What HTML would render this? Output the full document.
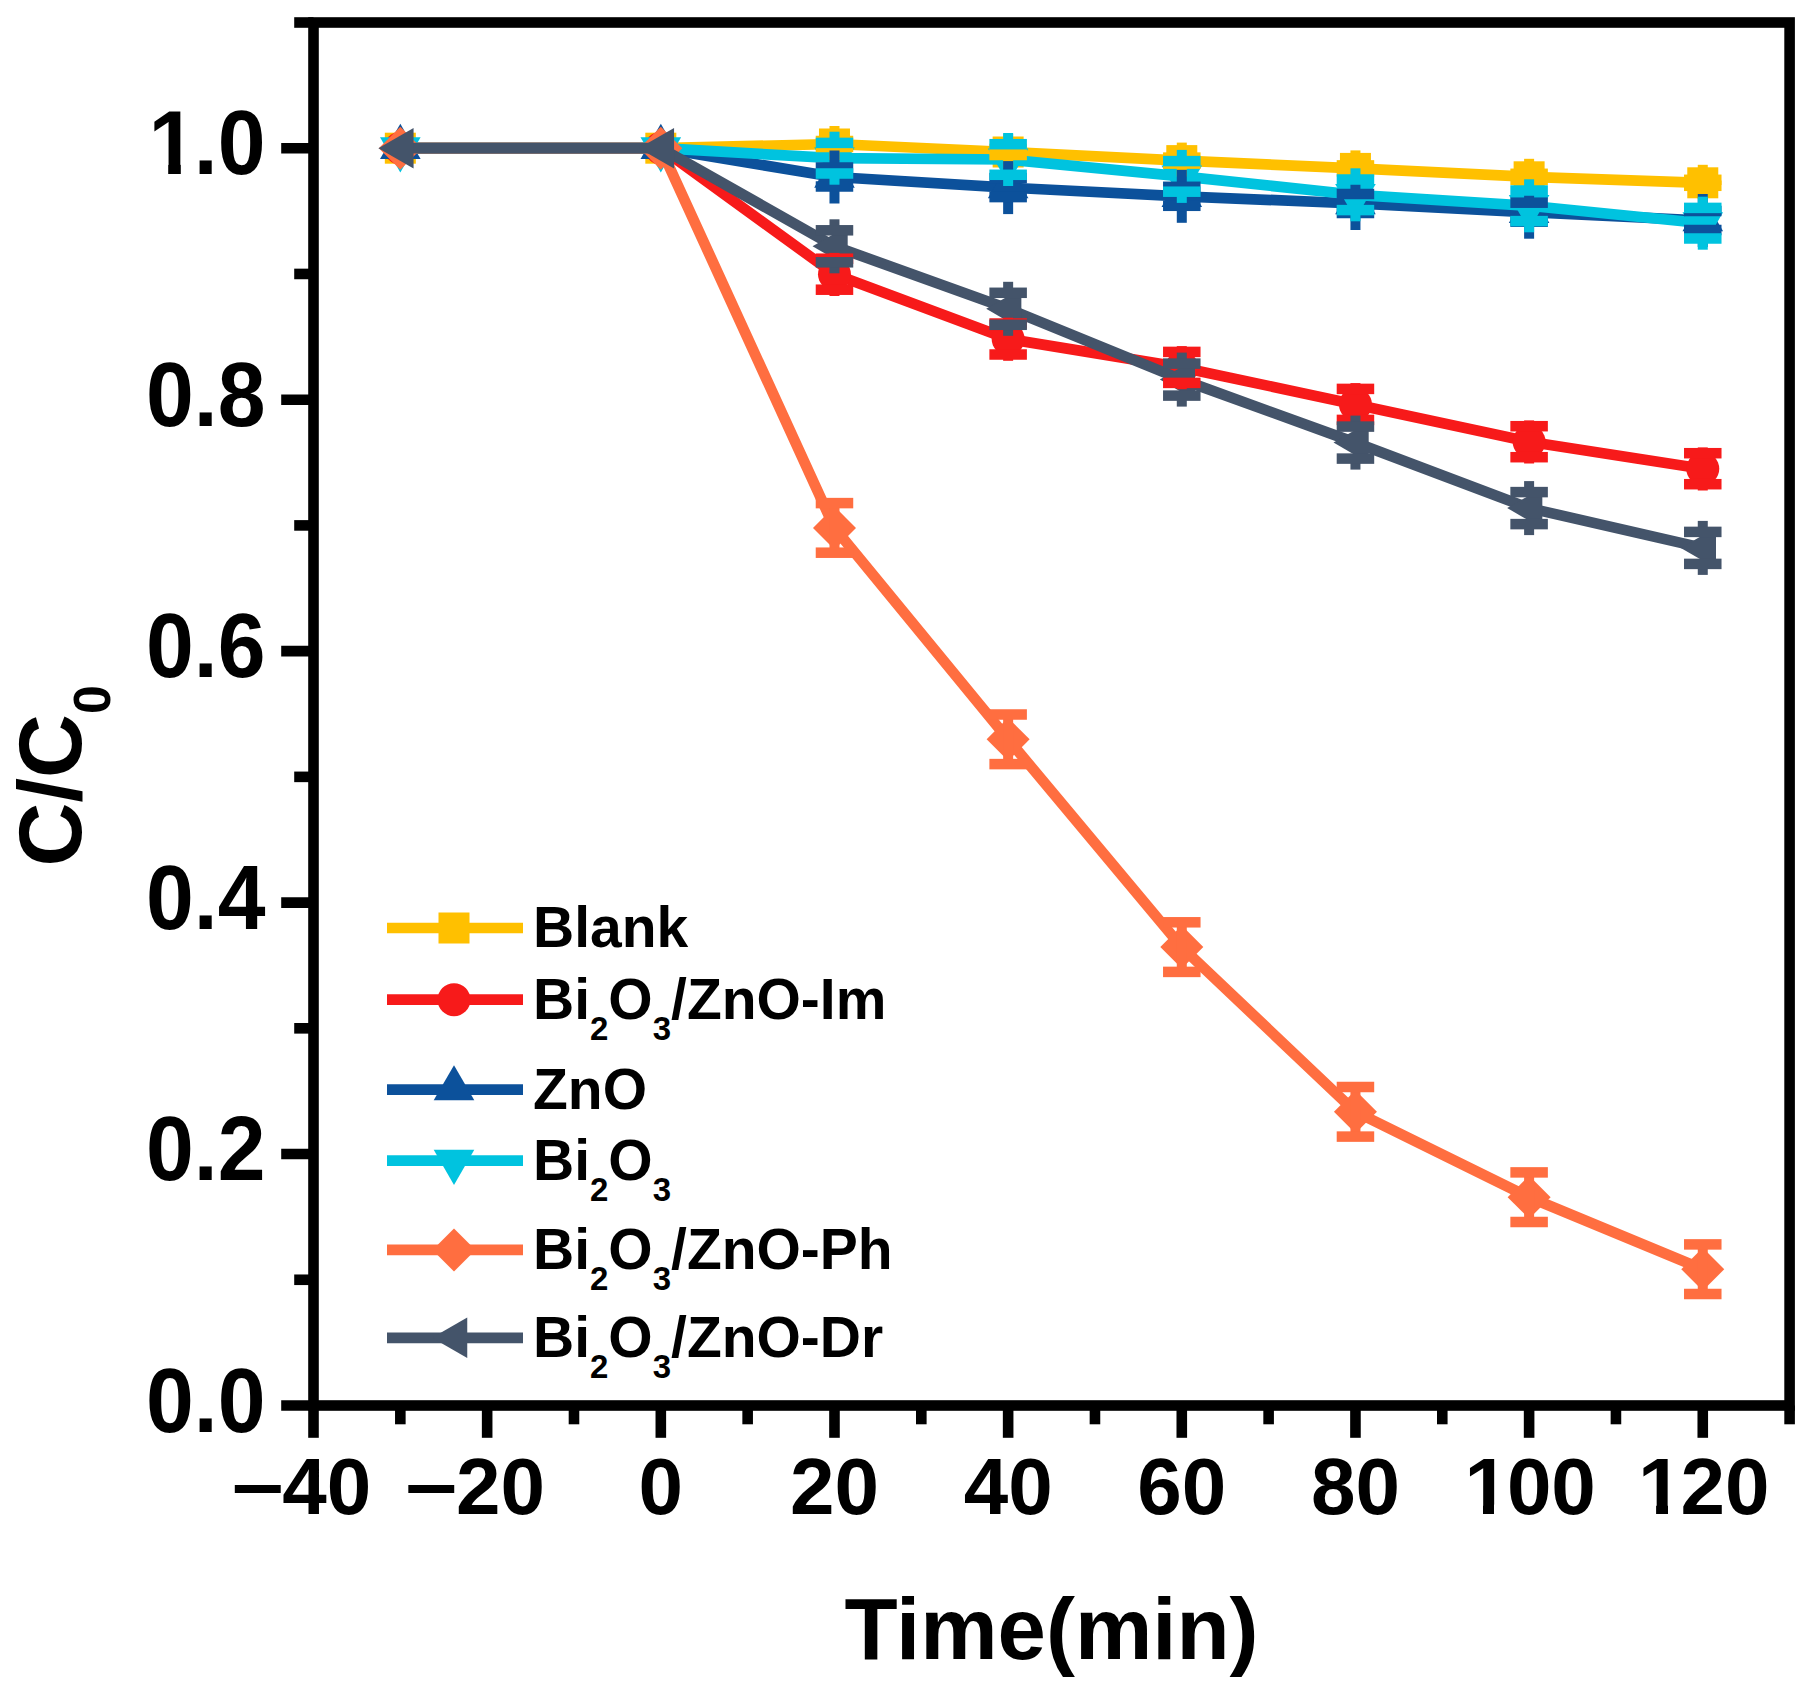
<!DOCTYPE html>
<html lang="en">
<head>
<meta charset="utf-8">
<title>C/C0 vs Time(min)</title>
<style>
html,body{margin:0;padding:0;background:#fff;}
body{width:1815px;height:1688px;overflow:hidden;font-family:"Liberation Sans",Arial,Helvetica,sans-serif;}
svg{display:block;}
</style>
</head>
<body>
<svg width="1815" height="1688" viewBox="0 0 1815 1688">
<g stroke="#000" stroke-width="10.6" fill="none" stroke-linecap="butt">
<rect x="313.5" y="22.5" width="1476.1" height="1383" stroke-linejoin="miter"/>
<line x1="281.2" y1="1405.5" x2="313.5" y2="1405.5"/>
<line x1="294.2" y1="1279.77" x2="313.5" y2="1279.77"/>
<line x1="281.2" y1="1154.05" x2="313.5" y2="1154.05"/>
<line x1="294.2" y1="1028.32" x2="313.5" y2="1028.32"/>
<line x1="281.2" y1="902.59" x2="313.5" y2="902.59"/>
<line x1="294.2" y1="776.86" x2="313.5" y2="776.86"/>
<line x1="281.2" y1="651.14" x2="313.5" y2="651.14"/>
<line x1="294.2" y1="525.41" x2="313.5" y2="525.41"/>
<line x1="281.2" y1="399.68" x2="313.5" y2="399.68"/>
<line x1="294.2" y1="273.95" x2="313.5" y2="273.95"/>
<line x1="281.2" y1="148.23" x2="313.5" y2="148.23"/>
<line x1="294.2" y1="22.5" x2="313.5" y2="22.5"/>
<line x1="313.5" y1="1405.5" x2="313.5" y2="1437.8"/>
<line x1="400.33" y1="1405.5" x2="400.33" y2="1424.3"/>
<line x1="487.16" y1="1405.5" x2="487.16" y2="1437.8"/>
<line x1="573.99" y1="1405.5" x2="573.99" y2="1424.3"/>
<line x1="660.82" y1="1405.5" x2="660.82" y2="1437.8"/>
<line x1="747.65" y1="1405.5" x2="747.65" y2="1424.3"/>
<line x1="834.48" y1="1405.5" x2="834.48" y2="1437.8"/>
<line x1="921.31" y1="1405.5" x2="921.31" y2="1424.3"/>
<line x1="1008.14" y1="1405.5" x2="1008.14" y2="1437.8"/>
<line x1="1094.96" y1="1405.5" x2="1094.96" y2="1424.3"/>
<line x1="1181.79" y1="1405.5" x2="1181.79" y2="1437.8"/>
<line x1="1268.62" y1="1405.5" x2="1268.62" y2="1424.3"/>
<line x1="1355.45" y1="1405.5" x2="1355.45" y2="1437.8"/>
<line x1="1442.28" y1="1405.5" x2="1442.28" y2="1424.3"/>
<line x1="1529.11" y1="1405.5" x2="1529.11" y2="1437.8"/>
<line x1="1615.94" y1="1405.5" x2="1615.94" y2="1424.3"/>
<line x1="1702.77" y1="1405.5" x2="1702.77" y2="1437.8"/>
<line x1="1789.6" y1="1405.5" x2="1789.6" y2="1424.3"/>
</g>
<g font-family="'Liberation Sans', Arial, Helvetica, sans-serif" font-weight="bold" font-size="90" text-anchor="end" fill="#000">
<text transform="translate(265.5,1431.5) scale(0.955,1)">0.0</text>
<text transform="translate(265.5,1180.05) scale(0.955,1)">0.2</text>
<text transform="translate(265.5,928.59) scale(0.955,1)">0.4</text>
<text transform="translate(265.5,677.14) scale(0.955,1)">0.6</text>
<text transform="translate(265.5,425.68) scale(0.955,1)">0.8</text>
<text text-anchor="start" transform="translate(148.53,174.23) scale(0.955,1)">1<tspan dx="-2.62">.0</tspan></text>
</g>
<g font-family="'Liberation Sans', Arial, Helvetica, sans-serif" font-weight="bold" font-size="80" text-anchor="middle" fill="#000">
<text text-anchor="start" x="231.9" y="1514"><tspan textLength="51.6" lengthAdjust="spacingAndGlyphs" dy="-4.3">–</tspan><tspan x="282.34" dy="4.3">40</tspan></text>
<text text-anchor="start" x="405.56" y="1514"><tspan textLength="51.6" lengthAdjust="spacingAndGlyphs" dy="-4.3">–</tspan><tspan x="456" dy="4.3">20</tspan></text>
<text x="660.82" y="1514">0</text>
<text x="834.48" y="1514">20</text>
<text x="1008.14" y="1514">40</text>
<text x="1181.79" y="1514">60</text>
<text x="1355.45" y="1514">80</text>
<text text-anchor="start" x="1464.39" y="1514">1<tspan dx="-2">00</tspan></text>
<text text-anchor="start" x="1638.05" y="1514">1<tspan dx="-2">20</tspan></text>
</g>
<rect x="1467.5" y="1504.6" width="15.5" height="10.6" fill="#fff"/>
<rect x="1494" y="1504.6" width="14" height="10.6" fill="#fff"/>
<rect x="1641.5" y="1504.6" width="14.6" height="10.6" fill="#fff"/>
<rect x="1668" y="1504.6" width="13.2" height="10.6" fill="#fff"/>
<rect x="152" y="163.8" width="16.2" height="11.4" fill="#fff"/>
<rect x="180.8" y="163.8" width="13.7" height="11.4" fill="#fff"/>
<text font-family="'Liberation Sans', Arial, Helvetica, sans-serif" font-weight="bold" font-size="87" text-anchor="middle" x="1051.5" y="1658.5">Time(min)</text>
<g transform="translate(81,866.5) rotate(-90)"><text font-family="'Liberation Sans', Arial, Helvetica, sans-serif" font-weight="bold" font-size="88.5" x="0" y="0">C/C<tspan font-size="52" dy="29">0</tspan></text></g>
<polyline points="400.33,148.2 660.82,148.2 834.48,144 1008.14,152 1181.79,160.6 1355.45,168.4 1529.11,176.8 1702.77,182.8" fill="none" stroke="#FFC000" stroke-width="10.7" stroke-linejoin="round"/>
<rect x="384.83" y="132.7" width="31" height="31" fill="#FFC000"/>
<rect x="645.32" y="132.7" width="31" height="31" fill="#FFC000"/>
<rect x="818.98" y="128.5" width="31" height="31" fill="#FFC000"/>
<rect x="992.64" y="136.5" width="31" height="31" fill="#FFC000"/>
<rect x="1166.29" y="145.1" width="31" height="31" fill="#FFC000"/>
<rect x="1339.95" y="152.9" width="31" height="31" fill="#FFC000"/>
<rect x="1513.61" y="161.3" width="31" height="31" fill="#FFC000"/>
<rect x="1687.27" y="167.3" width="31" height="31" fill="#FFC000"/>
<polyline points="400.33,148.2 660.82,148.2 834.48,274.2 1008.14,339 1181.79,367.4 1355.45,404.4 1529.11,441.7 1702.77,468.7" fill="none" stroke="#F71A1A" stroke-width="10.7" stroke-linejoin="round"/>
<circle cx="400.33" cy="148.2" r="16.5" fill="#F71A1A"/>
<circle cx="660.82" cy="148.2" r="16.5" fill="#F71A1A"/>
<circle cx="834.48" cy="274.2" r="16.5" fill="#F71A1A"/>
<circle cx="1008.14" cy="339" r="16.5" fill="#F71A1A"/>
<circle cx="1181.79" cy="367.4" r="16.5" fill="#F71A1A"/>
<circle cx="1355.45" cy="404.4" r="16.5" fill="#F71A1A"/>
<circle cx="1529.11" cy="441.7" r="16.5" fill="#F71A1A"/>
<circle cx="1702.77" cy="468.7" r="16.5" fill="#F71A1A"/>
<polyline points="400.33,148.2 660.82,148.2 834.48,177 1008.14,187.6 1181.79,196.3 1355.45,203.5 1529.11,212.2 1702.77,220.5" fill="none" stroke="#0C519B" stroke-width="10.7" stroke-linejoin="round"/>
<polygon points="400.33,123.76 380.03,158.92 420.63,158.92" fill="#0C519B"/>
<polygon points="660.82,123.76 640.52,158.92 681.12,158.92" fill="#0C519B"/>
<polygon points="834.48,152.56 814.18,187.72 854.78,187.72" fill="#0C519B"/>
<polygon points="1008.14,163.16 987.84,198.32 1028.44,198.32" fill="#0C519B"/>
<polygon points="1181.79,171.86 1161.49,207.02 1202.09,207.02" fill="#0C519B"/>
<polygon points="1355.45,179.06 1335.15,214.22 1375.75,214.22" fill="#0C519B"/>
<polygon points="1529.11,187.76 1508.81,222.92 1549.41,222.92" fill="#0C519B"/>
<polygon points="1702.77,196.06 1682.47,231.22 1723.07,231.22" fill="#0C519B"/>
<polyline points="400.33,148.2 660.82,148.2 834.48,158.2 1008.14,159.5 1181.79,176.4 1355.45,194.8 1529.11,205.8 1702.77,223.2" fill="none" stroke="#00C3DF" stroke-width="10.7" stroke-linejoin="round"/>
<polygon points="400.33,172.44 380.03,137.28 420.63,137.28" fill="#00C3DF"/>
<polygon points="660.82,172.44 640.52,137.28 681.12,137.28" fill="#00C3DF"/>
<polygon points="834.48,182.44 814.18,147.28 854.78,147.28" fill="#00C3DF"/>
<polygon points="1008.14,183.74 987.84,148.58 1028.44,148.58" fill="#00C3DF"/>
<polygon points="1181.79,200.64 1161.49,165.48 1202.09,165.48" fill="#00C3DF"/>
<polygon points="1355.45,219.04 1335.15,183.88 1375.75,183.88" fill="#00C3DF"/>
<polygon points="1529.11,230.04 1508.81,194.88 1549.41,194.88" fill="#00C3DF"/>
<polygon points="1702.77,247.44 1682.47,212.28 1723.07,212.28" fill="#00C3DF"/>
<polyline points="400.33,148.2 660.82,148.2 834.48,527.9 1008.14,739.3 1181.79,947.1 1355.45,1111.8 1529.11,1197.2 1702.77,1269.2" fill="none" stroke="#FF6E40" stroke-width="10.7" stroke-linejoin="round"/>
<polygon points="400.33,126.7 421.83,148.2 400.33,169.7 378.83,148.2" fill="#FF6E40"/>
<polygon points="660.82,126.7 682.32,148.2 660.82,169.7 639.32,148.2" fill="#FF6E40"/>
<polygon points="834.48,506.4 855.98,527.9 834.48,549.4 812.98,527.9" fill="#FF6E40"/>
<polygon points="1008.14,717.8 1029.64,739.3 1008.14,760.8 986.64,739.3" fill="#FF6E40"/>
<polygon points="1181.79,925.6 1203.29,947.1 1181.79,968.6 1160.29,947.1" fill="#FF6E40"/>
<polygon points="1355.45,1090.3 1376.95,1111.8 1355.45,1133.3 1333.95,1111.8" fill="#FF6E40"/>
<polygon points="1529.11,1175.7 1550.61,1197.2 1529.11,1218.7 1507.61,1197.2" fill="#FF6E40"/>
<polygon points="1702.77,1247.7 1724.27,1269.2 1702.77,1290.7 1681.27,1269.2" fill="#FF6E40"/>
<polyline points="400.33,148.2 660.82,148.2 834.48,246.3 1008.14,308.8 1181.79,379.6 1355.45,442.6 1529.11,508.1 1702.77,547.9" fill="none" stroke="#44546A" stroke-width="10.7" stroke-linejoin="round"/>
<polygon points="378.39,148.2 413.55,127.9 413.55,168.5" fill="#44546A"/>
<polygon points="638.88,148.2 674.04,127.9 674.04,168.5" fill="#44546A"/>
<polygon points="812.54,246.3 847.7,226 847.7,266.6" fill="#44546A"/>
<polygon points="986.19,308.8 1021.36,288.5 1021.36,329.1" fill="#44546A"/>
<polygon points="1159.85,379.6 1195.01,359.3 1195.01,399.9" fill="#44546A"/>
<polygon points="1333.51,442.6 1368.67,422.3 1368.67,462.9" fill="#44546A"/>
<polygon points="1507.17,508.1 1542.33,487.8 1542.33,528.4" fill="#44546A"/>
<polygon points="1680.83,547.9 1715.99,527.6 1715.99,568.2" fill="#44546A"/>
<rect x="829.48" y="126" width="10" height="15" fill="#FFC000"/>
<rect x="815.73" y="135.75" width="37.5" height="10.5" fill="#FFC000"/>
<rect x="829.48" y="147" width="10" height="13" fill="#FFC000"/>
<rect x="815.73" y="141.75" width="37.5" height="10.5" fill="#FFC000"/>
<rect x="1003.14" y="134" width="10" height="15" fill="#FFC000"/>
<rect x="989.39" y="143.75" width="37.5" height="10.5" fill="#FFC000"/>
<rect x="1003.14" y="155" width="10" height="13" fill="#FFC000"/>
<rect x="989.39" y="149.75" width="37.5" height="10.5" fill="#FFC000"/>
<rect x="1176.79" y="142.6" width="10" height="15" fill="#FFC000"/>
<rect x="1163.04" y="152.35" width="37.5" height="10.5" fill="#FFC000"/>
<rect x="1176.79" y="163.6" width="10" height="13" fill="#FFC000"/>
<rect x="1163.04" y="158.35" width="37.5" height="10.5" fill="#FFC000"/>
<rect x="1350.45" y="150.4" width="10" height="15" fill="#FFC000"/>
<rect x="1336.7" y="160.15" width="37.5" height="10.5" fill="#FFC000"/>
<rect x="1350.45" y="171.4" width="10" height="13" fill="#FFC000"/>
<rect x="1336.7" y="166.15" width="37.5" height="10.5" fill="#FFC000"/>
<rect x="1524.11" y="158.8" width="10" height="15" fill="#FFC000"/>
<rect x="1510.36" y="168.55" width="37.5" height="10.5" fill="#FFC000"/>
<rect x="1524.11" y="179.8" width="10" height="13" fill="#FFC000"/>
<rect x="1510.36" y="174.55" width="37.5" height="10.5" fill="#FFC000"/>
<rect x="1697.77" y="164.8" width="10" height="15" fill="#FFC000"/>
<rect x="1684.02" y="174.55" width="37.5" height="10.5" fill="#FFC000"/>
<rect x="1697.77" y="185.8" width="10" height="13" fill="#FFC000"/>
<rect x="1684.02" y="180.55" width="37.5" height="10.5" fill="#FFC000"/>
<rect x="829.48" y="252.9" width="10" height="5.8" fill="#F71A1A"/>
<rect x="815.73" y="253.45" width="37.5" height="10.5" fill="#F71A1A"/>
<rect x="829.48" y="289.7" width="10" height="6.3" fill="#F71A1A"/>
<rect x="815.73" y="284.45" width="37.5" height="10.5" fill="#F71A1A"/>
<rect x="1003.14" y="317.7" width="10" height="5.8" fill="#F71A1A"/>
<rect x="989.39" y="318.25" width="37.5" height="10.5" fill="#F71A1A"/>
<rect x="1003.14" y="354.5" width="10" height="6.3" fill="#F71A1A"/>
<rect x="989.39" y="349.25" width="37.5" height="10.5" fill="#F71A1A"/>
<rect x="1176.79" y="346.1" width="10" height="5.8" fill="#F71A1A"/>
<rect x="1163.04" y="346.65" width="37.5" height="10.5" fill="#F71A1A"/>
<rect x="1176.79" y="382.9" width="10" height="6.3" fill="#F71A1A"/>
<rect x="1163.04" y="377.65" width="37.5" height="10.5" fill="#F71A1A"/>
<rect x="1350.45" y="383.1" width="10" height="5.8" fill="#F71A1A"/>
<rect x="1336.7" y="383.65" width="37.5" height="10.5" fill="#F71A1A"/>
<rect x="1350.45" y="419.9" width="10" height="6.3" fill="#F71A1A"/>
<rect x="1336.7" y="414.65" width="37.5" height="10.5" fill="#F71A1A"/>
<rect x="1524.11" y="420.4" width="10" height="5.8" fill="#F71A1A"/>
<rect x="1510.36" y="420.95" width="37.5" height="10.5" fill="#F71A1A"/>
<rect x="1524.11" y="457.2" width="10" height="6.3" fill="#F71A1A"/>
<rect x="1510.36" y="451.95" width="37.5" height="10.5" fill="#F71A1A"/>
<rect x="1697.77" y="447.4" width="10" height="5.8" fill="#F71A1A"/>
<rect x="1684.02" y="447.95" width="37.5" height="10.5" fill="#F71A1A"/>
<rect x="1697.77" y="484.2" width="10" height="6.3" fill="#F71A1A"/>
<rect x="1684.02" y="478.95" width="37.5" height="10.5" fill="#F71A1A"/>
<rect x="829.48" y="150.5" width="10" height="17" fill="#0C519B"/>
<rect x="815.73" y="162.25" width="37.5" height="10.5" fill="#0C519B"/>
<rect x="829.48" y="186.5" width="10" height="17" fill="#0C519B"/>
<rect x="815.73" y="181.25" width="37.5" height="10.5" fill="#0C519B"/>
<rect x="1003.14" y="161.1" width="10" height="17" fill="#0C519B"/>
<rect x="989.39" y="172.85" width="37.5" height="10.5" fill="#0C519B"/>
<rect x="1003.14" y="197.1" width="10" height="17" fill="#0C519B"/>
<rect x="989.39" y="191.85" width="37.5" height="10.5" fill="#0C519B"/>
<rect x="1176.79" y="169.8" width="10" height="17" fill="#0C519B"/>
<rect x="1163.04" y="181.55" width="37.5" height="10.5" fill="#0C519B"/>
<rect x="1176.79" y="205.8" width="10" height="17" fill="#0C519B"/>
<rect x="1163.04" y="200.55" width="37.5" height="10.5" fill="#0C519B"/>
<rect x="1350.45" y="177" width="10" height="17" fill="#0C519B"/>
<rect x="1336.7" y="188.75" width="37.5" height="10.5" fill="#0C519B"/>
<rect x="1350.45" y="213" width="10" height="17" fill="#0C519B"/>
<rect x="1336.7" y="207.75" width="37.5" height="10.5" fill="#0C519B"/>
<rect x="1524.11" y="185.7" width="10" height="17" fill="#0C519B"/>
<rect x="1510.36" y="197.45" width="37.5" height="10.5" fill="#0C519B"/>
<rect x="1524.11" y="221.7" width="10" height="17" fill="#0C519B"/>
<rect x="1510.36" y="216.45" width="37.5" height="10.5" fill="#0C519B"/>
<rect x="1697.77" y="194" width="10" height="17" fill="#0C519B"/>
<rect x="1684.02" y="205.75" width="37.5" height="10.5" fill="#0C519B"/>
<rect x="1697.77" y="230" width="10" height="17" fill="#0C519B"/>
<rect x="1684.02" y="224.75" width="37.5" height="10.5" fill="#0C519B"/>
<rect x="829.48" y="131.7" width="10" height="11.2" fill="#00C3DF"/>
<rect x="815.73" y="137.65" width="37.5" height="10.5" fill="#00C3DF"/>
<rect x="829.48" y="173.5" width="10" height="11.2" fill="#00C3DF"/>
<rect x="815.73" y="168.25" width="37.5" height="10.5" fill="#00C3DF"/>
<rect x="1003.14" y="133" width="10" height="11.2" fill="#00C3DF"/>
<rect x="989.39" y="138.95" width="37.5" height="10.5" fill="#00C3DF"/>
<rect x="1003.14" y="174.8" width="10" height="11.2" fill="#00C3DF"/>
<rect x="989.39" y="169.55" width="37.5" height="10.5" fill="#00C3DF"/>
<rect x="1176.79" y="149.9" width="10" height="11.2" fill="#00C3DF"/>
<rect x="1163.04" y="155.85" width="37.5" height="10.5" fill="#00C3DF"/>
<rect x="1176.79" y="191.7" width="10" height="11.2" fill="#00C3DF"/>
<rect x="1163.04" y="186.45" width="37.5" height="10.5" fill="#00C3DF"/>
<rect x="1350.45" y="168.3" width="10" height="11.2" fill="#00C3DF"/>
<rect x="1336.7" y="174.25" width="37.5" height="10.5" fill="#00C3DF"/>
<rect x="1350.45" y="210.1" width="10" height="11.2" fill="#00C3DF"/>
<rect x="1336.7" y="204.85" width="37.5" height="10.5" fill="#00C3DF"/>
<rect x="1524.11" y="179.3" width="10" height="11.2" fill="#00C3DF"/>
<rect x="1510.36" y="185.25" width="37.5" height="10.5" fill="#00C3DF"/>
<rect x="1524.11" y="221.1" width="10" height="11.2" fill="#00C3DF"/>
<rect x="1510.36" y="215.85" width="37.5" height="10.5" fill="#00C3DF"/>
<rect x="1697.77" y="196.7" width="10" height="11.2" fill="#00C3DF"/>
<rect x="1684.02" y="202.65" width="37.5" height="10.5" fill="#00C3DF"/>
<rect x="1697.77" y="238.5" width="10" height="11.2" fill="#00C3DF"/>
<rect x="1684.02" y="233.25" width="37.5" height="10.5" fill="#00C3DF"/>
<rect x="829.48" y="503.1" width="10" height="49.6" fill="#FF6E40"/>
<rect x="815.73" y="497.85" width="37.5" height="10.5" fill="#FF6E40"/>
<rect x="815.73" y="547.45" width="37.5" height="10.5" fill="#FF6E40"/>
<rect x="1003.14" y="714.5" width="10" height="49.6" fill="#FF6E40"/>
<rect x="989.39" y="709.25" width="37.5" height="10.5" fill="#FF6E40"/>
<rect x="989.39" y="758.85" width="37.5" height="10.5" fill="#FF6E40"/>
<rect x="1176.79" y="922.3" width="10" height="49.6" fill="#FF6E40"/>
<rect x="1163.04" y="917.05" width="37.5" height="10.5" fill="#FF6E40"/>
<rect x="1163.04" y="966.65" width="37.5" height="10.5" fill="#FF6E40"/>
<rect x="1350.45" y="1087" width="10" height="49.6" fill="#FF6E40"/>
<rect x="1336.7" y="1081.75" width="37.5" height="10.5" fill="#FF6E40"/>
<rect x="1336.7" y="1131.35" width="37.5" height="10.5" fill="#FF6E40"/>
<rect x="1524.11" y="1172.4" width="10" height="49.6" fill="#FF6E40"/>
<rect x="1510.36" y="1167.15" width="37.5" height="10.5" fill="#FF6E40"/>
<rect x="1510.36" y="1216.75" width="37.5" height="10.5" fill="#FF6E40"/>
<rect x="1697.77" y="1244.4" width="10" height="49.6" fill="#FF6E40"/>
<rect x="1684.02" y="1239.15" width="37.5" height="10.5" fill="#FF6E40"/>
<rect x="1684.02" y="1288.75" width="37.5" height="10.5" fill="#FF6E40"/>
<rect x="829.48" y="219.3" width="10" height="11" fill="#44546A"/>
<rect x="815.73" y="225.05" width="37.5" height="10.5" fill="#44546A"/>
<rect x="829.48" y="262.3" width="10" height="11" fill="#44546A"/>
<rect x="815.73" y="257.05" width="37.5" height="10.5" fill="#44546A"/>
<rect x="1003.14" y="281.8" width="10" height="11" fill="#44546A"/>
<rect x="989.39" y="287.55" width="37.5" height="10.5" fill="#44546A"/>
<rect x="1003.14" y="324.8" width="10" height="11" fill="#44546A"/>
<rect x="989.39" y="319.55" width="37.5" height="10.5" fill="#44546A"/>
<rect x="1176.79" y="352.6" width="10" height="11" fill="#44546A"/>
<rect x="1163.04" y="358.35" width="37.5" height="10.5" fill="#44546A"/>
<rect x="1176.79" y="395.6" width="10" height="11" fill="#44546A"/>
<rect x="1163.04" y="390.35" width="37.5" height="10.5" fill="#44546A"/>
<rect x="1350.45" y="415.6" width="10" height="11" fill="#44546A"/>
<rect x="1336.7" y="421.35" width="37.5" height="10.5" fill="#44546A"/>
<rect x="1350.45" y="458.6" width="10" height="11" fill="#44546A"/>
<rect x="1336.7" y="453.35" width="37.5" height="10.5" fill="#44546A"/>
<rect x="1524.11" y="481.1" width="10" height="11" fill="#44546A"/>
<rect x="1510.36" y="486.85" width="37.5" height="10.5" fill="#44546A"/>
<rect x="1524.11" y="524.1" width="10" height="11" fill="#44546A"/>
<rect x="1510.36" y="518.85" width="37.5" height="10.5" fill="#44546A"/>
<rect x="1697.77" y="520.9" width="10" height="11" fill="#44546A"/>
<rect x="1684.02" y="526.65" width="37.5" height="10.5" fill="#44546A"/>
<rect x="1697.77" y="563.9" width="10" height="11" fill="#44546A"/>
<rect x="1684.02" y="558.65" width="37.5" height="10.5" fill="#44546A"/>
<line x1="387" y1="928" x2="523" y2="928" stroke="#FFC000" stroke-width="10.7"/>
<rect x="438.5" y="912.5" width="31" height="31" fill="#FFC000"/>
<text font-family="'Liberation Sans', Arial, Helvetica, sans-serif" font-weight="bold" font-size="57" x="533" y="947">Blank</text>
<line x1="387" y1="999.7" x2="523" y2="999.7" stroke="#F71A1A" stroke-width="10.7"/>
<circle cx="454" cy="999.7" r="16.5" fill="#F71A1A"/>
<text font-family="'Liberation Sans', Arial, Helvetica, sans-serif" font-weight="bold" font-size="57" x="533" y="1018.7">Bi<tspan font-size="33" dy="21">2</tspan><tspan dy="-21">O</tspan><tspan font-size="33" dy="21">3</tspan><tspan dy="-21">/ZnO-Im</tspan></text>
<line x1="387" y1="1089.6" x2="523" y2="1089.6" stroke="#0C519B" stroke-width="10.7"/>
<polygon points="454,1065.16 433.7,1100.32 474.3,1100.32" fill="#0C519B"/>
<text font-family="'Liberation Sans', Arial, Helvetica, sans-serif" font-weight="bold" font-size="57" x="533" y="1108.6">ZnO</text>
<line x1="387" y1="1160.7" x2="523" y2="1160.7" stroke="#00C3DF" stroke-width="10.7"/>
<polygon points="454,1184.94 433.7,1149.78 474.3,1149.78" fill="#00C3DF"/>
<text font-family="'Liberation Sans', Arial, Helvetica, sans-serif" font-weight="bold" font-size="57" x="533" y="1179.7">Bi<tspan font-size="33" dy="21">2</tspan><tspan dy="-21">O</tspan><tspan font-size="33" dy="21">3</tspan></text>
<line x1="387" y1="1249.9" x2="523" y2="1249.9" stroke="#FF6E40" stroke-width="10.7"/>
<polygon points="454,1228.4 475.5,1249.9 454,1271.4 432.5,1249.9" fill="#FF6E40"/>
<text font-family="'Liberation Sans', Arial, Helvetica, sans-serif" font-weight="bold" font-size="57" x="533" y="1268.9">Bi<tspan font-size="33" dy="21">2</tspan><tspan dy="-21">O</tspan><tspan font-size="33" dy="21">3</tspan><tspan dy="-21">/ZnO-Ph</tspan></text>
<line x1="387" y1="1337.8" x2="523" y2="1337.8" stroke="#44546A" stroke-width="10.7"/>
<polygon points="432.06,1337.8 467.22,1317.5 467.22,1358.1" fill="#44546A"/>
<text font-family="'Liberation Sans', Arial, Helvetica, sans-serif" font-weight="bold" font-size="57" x="533" y="1356.8">Bi<tspan font-size="33" dy="21">2</tspan><tspan dy="-21">O</tspan><tspan font-size="33" dy="21">3</tspan><tspan dy="-21">/ZnO-Dr</tspan></text>
</svg>
</body>
</html>
